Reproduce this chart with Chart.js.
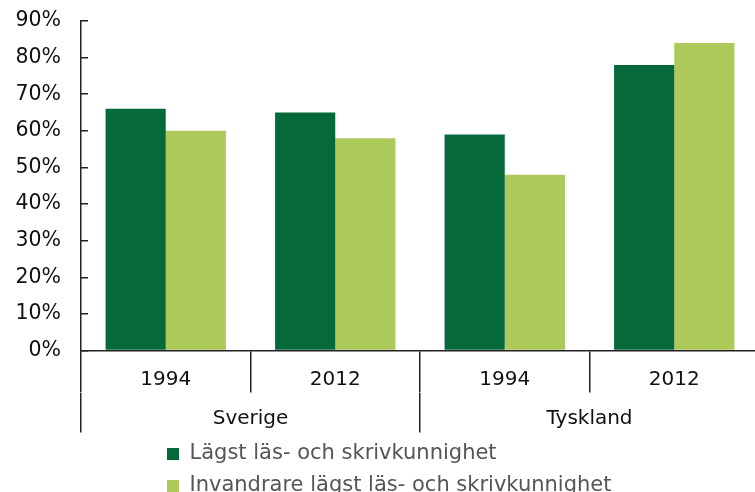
<!DOCTYPE html>
<html>
<head>
<meta charset="utf-8">
<script src="https://cdn.jsdelivr.net/npm/chart.js@4/dist/chart.umd.min.js"></script>
<style>
  html, body { margin: 0; padding: 0; background: #fff; overflow: hidden; }
  #wrap { position: absolute; left: 0; top: 0; width: 765px; height: 510px; }
</style>
</head>
<body>
<div id="wrap"><canvas id="chart"></canvas></div>
<script>
  // data
  const years = ["1994", "2012", "1994", "2012"];
  const countries = ["Sverige", "Tyskland"];
  const lowestLiteracy = [66, 65, 59, 78];
  const immigrantsLowestLiteracy = [60, 58, 48, 84];
  const seriesNames = [
    "Lägst läs- och skrivkunnighet",
    "Invandrare lägst läs- och skrivkunnighet",
  ];

  const axisColor = "#222";
  const font = "'DejaVu Sans', Verdana, sans-serif";

  // legend rows start under the first group in the original, not at the edge
  const legendShift = {
    id: "legendShift",
    afterLayout(chart) {
      chart.legend.left = 156;
    },
  };

  const chart = new Chart(document.getElementById("chart"), {
    type: "bar",
    data: {
      labels: years,
      datasets: [
        {
          label: seriesNames[0],
          data: lowestLiteracy,
          backgroundColor: "#05693a",
          borderWidth: 0,
        },
        {
          label: seriesNames[1],
          data: immigrantsLowestLiteracy,
          backgroundColor: "#adc95a",
          borderWidth: 0,
        },
      ],
    },
    options: {
      responsive: true,
      maintainAspectRatio: false,
      animation: false,
      layout: { padding: { top: 21, right: 6, left: 0, bottom: 3.5 } },
      datasets: { bar: { barPercentage: 1, categoryPercentage: 0.71 } },
      scales: {
        y: {
          min: 0,
          max: 90,
          ticks: {
            stepSize: 10,
            padding: 27,
            color: "#111",
            font: { family: font, size: 20.5 },
            callback: (v) => v + "%",
          },
          grid: {
            drawOnChartArea: false,
            tickLength: -7,
            color: axisColor,
            lineWidth: 1.5,
          },
          border: { color: axisColor, width: 1.5 },
          afterFit(scale) {
            scale.width = 81;
            // tick padding would otherwise push the plot area down
            scale.paddingTop = 12;
          },
        },
        x: {
          offset: true,
          ticks: {
            padding: -25,
            color: "#111",
            font: { family: font, size: 20 },
            maxRotation: 0,
          },
          grid: {
            offset: true,
            drawOnChartArea: false,
            tickLength: 42,
            color: axisColor,
            lineWidth: 1.5,
          },
          border: { color: axisColor, width: 1.5 },
          afterFit(scale) {
            scale.height = 42;
          },
        },
        x2: {
          type: "category",
          labels: countries,
          position: "bottom",
          offset: true,
          ticks: {
            padding: -26,
            color: "#111",
            font: { family: font, size: 20 },
            maxRotation: 0,
          },
          grid: {
            offset: true,
            drawOnChartArea: false,
            tickLength: 40,
            color: axisColor,
            lineWidth: 1.5,
          },
          border: { display: false },
          afterFit(scale) {
            scale.height = 40;
          },
        },
      },
      plugins: {
        tooltip: { enabled: false },
        legend: {
          position: "bottom",
          align: "start",
          labels: {
            boxWidth: 12,
            boxHeight: 12,
            padding: 11,
            color: "#555",
            font: { family: font, size: 21 },
          },
        },
      },
    },
    plugins: [legendShift],
  });
</script>
</body>
</html>
